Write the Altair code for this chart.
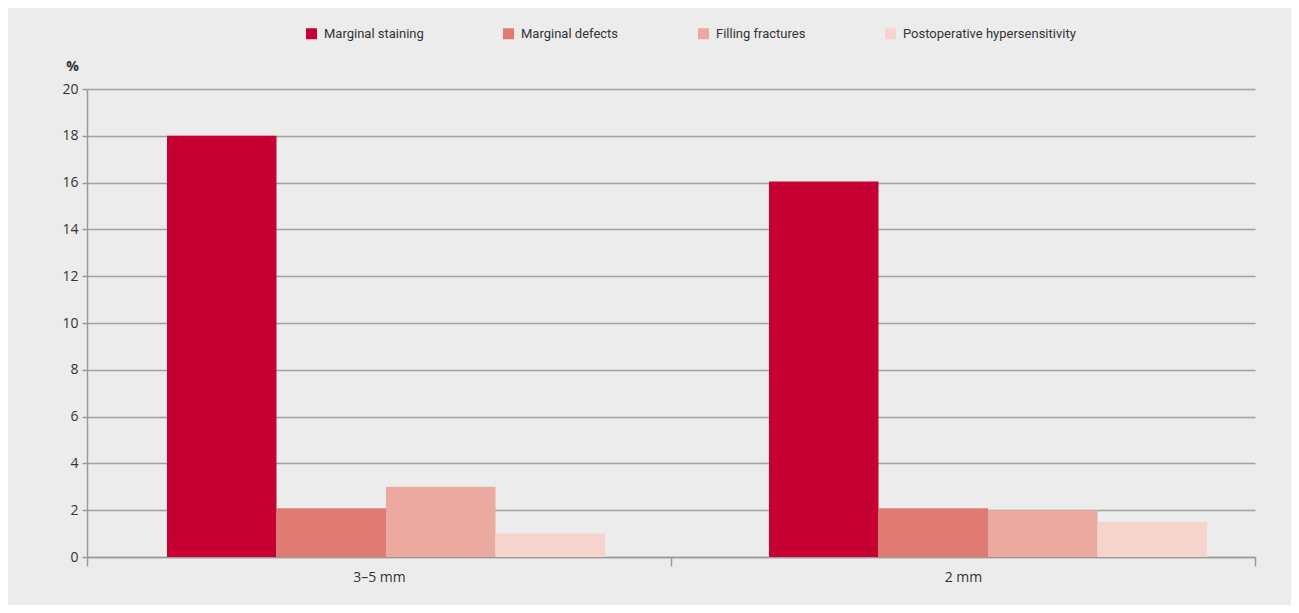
import altair as alt
import pandas as pd

groups = ["3–5 mm", "2 mm"]
series = ["Marginal staining", "Marginal defects", "Filling fractures", "Postoperative hypersensitivity"]
colors = ["#c70033", "#df7b72", "#eba99f", "#f6d4cd"]
vals_35 = [18.0, 2.08, 3.0, 1.0]
vals_2 = [16.05, 2.08, 2.0, 1.5]

rows = []
for g, vals in zip(groups, [vals_35, vals_2]):
    for s, v in zip(series, vals):
        rows.append({"group": g, "series": s, "value": v})
df = pd.DataFrame(rows)

axis_font = "Open Sans"
leg_font = "Roboto"
gray = "#9a9a9a"

y_enc = alt.Y("value:Q", title="%",
              scale=alt.Scale(domain=[0, 20], nice=False),
              axis=alt.Axis(values=list(range(0, 21, 2)), tickSize=5, tickColor=gray,
                            tickWidth=1.5, domainColor=gray, domainWidth=1.5,
                            gridColor="#a0a0a0", gridWidth=1.5,
                            labelFont=axis_font, labelFontSize=14, labelColor="#333333",
                            labelPadding=4,
                            titleAngle=0, titleX=-15, titleY=-23, titleAlign="center",
                            titleBaseline="middle", titleFont=axis_font, titleFontSize=14,
                            titleFontWeight="bold", titleColor="#333333"))

axis_layer = alt.Chart(df).mark_point(opacity=0).encode(
    x=alt.X("group:N", sort=groups, title=None,
            scale=alt.Scale(paddingInner=0, paddingOuter=0),
            axis=alt.Axis(orient="bottom", labelAngle=0, tickBand="extent", tickSize=9,
                          tickColor=gray, tickWidth=1.5, domainColor=gray, domainWidth=1.5,
                          labelFont=axis_font, labelFontSize=14, labelColor="#333333",
                          labelPadding=4, grid=False)),
    y=y_enc,
)

bars = alt.Chart(df).mark_bar(strokeWidth=0).encode(
    x=alt.X("group:N", sort=groups, title=None,
            scale=alt.Scale(paddingInner=0.2724, paddingOuter=0.1063, align=0.625),
            axis=None),
    xOffset=alt.XOffset("series:N", sort=series),
    y=y_enc,
    color=alt.Color("series:N", sort=series,
                    scale=alt.Scale(domain=series, range=colors),
                    legend=alt.Legend(title=None, orient="none", legendX=218, legendY=-62,
                                      direction="horizontal", columns=4, columnPadding=78,
                                      symbolType="square", symbolSize=121,
                                      symbolStrokeWidth=0, labelOffset=6, labelLimit=400,
                                      labelFont=leg_font, labelFontSize=13,
                                      labelColor="#333333", padding=0)),
)

chart = alt.layer(axis_layer, bars).resolve_scale(x="independent").properties(
    width=1168, height=468,
    autosize=alt.AutoSizeParams(type="none"),
    padding={"left": 79, "top": 81, "right": 36, "bottom": 48},
    background="#ebeceb",
).configure_view(stroke=None)

chart.save("out.html", embed_options={"renderer": "svg", "actions": False})
